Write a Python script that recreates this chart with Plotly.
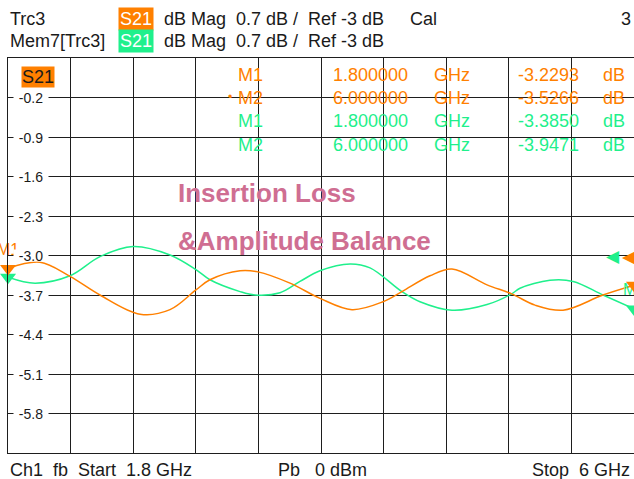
import plotly.graph_objects as go

# ---------------- data ----------------
freq_trc3 = [1.800, 2.015, 2.216, 2.417, 2.686, 2.887, 3.061, 3.155, 3.357, 3.477,
             3.692, 3.893, 4.108, 4.316, 4.443, 4.631, 4.779, 5.014, 5.179, 5.336,
             5.524, 5.792, 6.000]
s21_trc3 = [-3.2293, -3.12, -3.37, -3.70, -4.04, -3.96, -3.61, -3.43, -3.27, -3.29,
            -3.49, -3.76, -3.96, -3.82, -3.64, -3.36, -3.24, -3.52, -3.68, -3.88,
            -3.97, -3.70, -3.5266]

freq_mem7 = [1.800, 1.981, 2.216, 2.417, 2.639, 2.887, 3.061, 3.155, 3.357, 3.457,
             3.625, 3.759, 3.893, 4.095, 4.229, 4.443, 4.564, 4.779, 5.014, 5.179,
             5.235, 5.436, 5.591, 5.792, 6.000]
s21_mem7 = [-3.3850, -3.49, -3.36, -3.02, -2.84, -2.99, -3.25, -3.43, -3.64, -3.70,
            -3.66, -3.46, -3.27, -3.15, -3.22, -3.64, -3.82, -3.97, -3.87, -3.68,
            -3.58, -3.44, -3.46, -3.70, -3.9471]

y_tick_vals = [-0.2, -0.9, -1.6, -2.3, -3.0, -3.7, -4.4, -5.1, -5.8]
y_tick_text = ["-0.2", "-0.9", "-1.6", "-2.3", "-3.0", "-3.7", "-4.4", "-5.1", "-5.8"]

marker_names = ["M1", "M2"]
marker_freq = [1.8, 6.0]
marker_trc3 = [-3.2293, -3.5266]
marker_mem7 = [-3.3850, -3.9471]
marker_freq_text = ["1.800000", "6.000000"]
ref_level = -3.0

ORANGE = "#ff8000"
GREEN = "#1ff08c"
FONT = "Liberation Sans, Arial, sans-serif"

W, H = 634, 479
ML, MR, MT, MB = 8, 0, 58, 26
PW, PH = W - ML - MR, H - MT - MB


def px(x):
    return (x - ML) / PW


def py(y):
    return (H - MB - y) / PH


fig = go.Figure()

fig.add_trace(go.Scatter(x=freq_mem7, y=s21_mem7, mode="lines",
                         line=dict(color=GREEN, width=1.5, shape="spline", smoothing=1.0),
                         name="Mem7[Trc3]", hoverinfo="skip"))
fig.add_trace(go.Scatter(x=freq_trc3, y=s21_trc3, mode="lines",
                         line=dict(color=ORANGE, width=1.5, shape="spline", smoothing=1.0),
                         name="Trc3", hoverinfo="skip"))

# marker symbols
fig.add_trace(go.Scatter(x=marker_freq, y=marker_mem7, mode="markers+text",
                         text=["", "M2"], textposition="top center",
                         textfont=dict(color=GREEN, size=16, family=FONT),
                         marker=dict(symbol="triangle-down", size=14, color=GREEN),
                         cliponaxis=False, hoverinfo="skip"))
fig.add_trace(go.Scatter(x=marker_freq, y=marker_trc3, mode="markers+text",
                         text=["M1", ""], textposition="top center",
                         textfont=dict(color=ORANGE, size=16, family=FONT),
                         marker=dict(symbol="triangle-down", size=14, color=ORANGE),
                         cliponaxis=False, hoverinfo="skip"))

ann = []


def txt(x, y, s, color="#1a1a1a", size=18, anchor="left", **kw):
    ann.append(dict(xref="paper", yref="paper", x=px(x), y=py(y), text=s,
                    showarrow=False, xanchor=anchor, yanchor="middle",
                    font=dict(family=FONT, size=size, color=color), **kw))


# header
txt(8, 19, "Trc3")
txt(118, 19, "S21", color="white", bgcolor=ORANGE, borderpad=1)
txt(162, 19, "dB Mag  0.7 dB /  Ref -3 dB")
txt(408, 19, "Cal")
txt(633, 19, "3", anchor="right")
txt(8, 41, "Mem7[Trc3]")
txt(118, 41, "S21", color="white", bgcolor=GREEN, borderpad=1)
txt(162, 41, "dB Mag  0.7 dB /  Ref -3 dB")

# footer
txt(8, 470, "Ch1  fb  Start  1.8 GHz")
txt(276, 470, "Pb   0 dBm")
txt(632, 470, "Stop  6 GHz", anchor="right")

# trace label inside plot
txt(21, 77, "S21", color="#1a1a1a", bgcolor=ORANGE, borderpad=0)

# marker table
rows = [(75, ORANGE, 0, marker_trc3), (98, ORANGE, 1, marker_trc3),
        (121.5, GREEN, 0, marker_mem7), (145, GREEN, 1, marker_mem7)]
for yy, col, i, vals in rows:
    txt(236, yy, marker_names[i], color=col)
    txt(331, yy, marker_freq_text[i], color=col)
    txt(432, yy, "GHz", color=col)
    txt(516, yy, f"{vals[i]:.4f}", color=col)
    txt(601, yy, "dB", color=col)
txt(230, 97, "•", color=ORANGE, size=12, anchor="center")

# title text
TITLE_COL = "#cf6e92"
txt(176, 193, "<b>Insertion Loss</b>", color=TITLE_COL, size=26)
txt(176, 241, "<b>&Amplitude Balance</b>", color=TITLE_COL, size=26)

# y tick labels (white background over grid)
for v, t in zip(y_tick_vals, y_tick_text):
    ann.append(dict(xref="paper", yref="y", x=px(31), y=v, text=t, showarrow=False,
                    xanchor="center", yanchor="middle", bgcolor="white", borderpad=0,
                    width=34, height=11,
                    font=dict(family=FONT, size=14, color="#1a1a1a")))

# reference level arrows
ann.append(dict(xref="x", yref="y", x=marker_freq[1], y=ref_level, text="◀",
                showarrow=False, xanchor="center", yanchor="middle", xshift=-21,
                font=dict(family="DejaVu Sans", size=17, color=GREEN)))
ann.append(dict(xref="x", yref="y", x=marker_freq[1], y=ref_level, text="◀",
                showarrow=False, xanchor="center", yanchor="middle", xshift=-5,
                font=dict(family="DejaVu Sans", size=19, color=ORANGE)))

fig.update_layout(
    width=W, height=H,
    margin=dict(l=ML, r=MR, t=MT, b=MB, pad=0),
    paper_bgcolor="white", plot_bgcolor="white",
    showlegend=False,
    annotations=ann,
    font=dict(family=FONT),
)
fig.update_xaxes(range=[1.8, 6.0], tick0=1.8, dtick=0.42, showticklabels=False,
                 showgrid=True, gridcolor="#1e1e1e", gridwidth=1, zeroline=False,
                 showline=True, linecolor="#1e1e1e", linewidth=1, mirror=True, ticks="")
fig.update_yaxes(range=[-6.5, 0.5], tick0=0.5, dtick=0.7, showticklabels=False,
                 showgrid=True, gridcolor="#1e1e1e", gridwidth=1, zeroline=False,
                 showline=True, linecolor="#1e1e1e", linewidth=1, mirror=True,
                 ticks="inside", ticklen=6, tickcolor="#1e1e1e")

fig.write_html("out.html", config={"displayModeBar": False},
               post_script="document.body.style.margin='0';document.body.style.overflow='hidden';")
